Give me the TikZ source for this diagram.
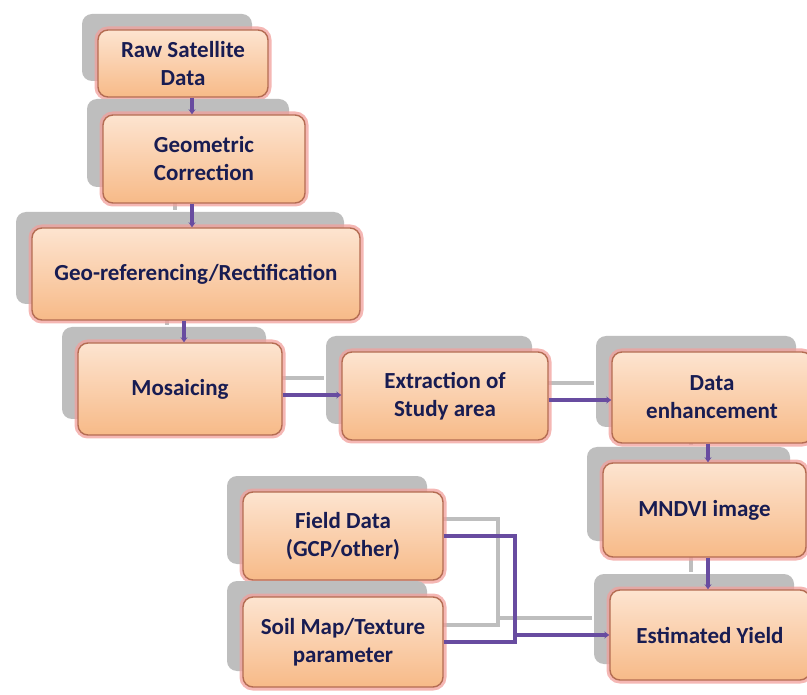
\documentclass[tikz,border=0pt]{standalone}
\usepackage{fontspec}
\setmainfont{Carlito}
\usetikzlibrary{shadows,arrows.meta,calc}
\definecolor{navy}{RGB}{24,28,82}
\definecolor{peachtop}{RGB}{253,228,208}
\definecolor{peachbot}{RGB}{247,186,136}
\definecolor{boxedge}{RGB}{180,108,82}
\definecolor{glow}{RGB}{242,160,156}
\definecolor{shadowgray}{RGB}{190,190,190}
\definecolor{linkpurple}{RGB}{104,76,160}
\pgfdeclarelayer{bg}
\pgfsetlayers{bg,main}
\newcommand\drawlinks[1]{%
  \draw[#1] (raw.south -| cA) -- (geo.north -| cA);
  \draw[#1] (geo.south -| cA) -- (georef.north -| cA);
  \draw[#1] (georef.south -| cB) -- (mosaic.north -| cB);
  \draw[#1] (mosaic.east |- cC) -- (extract.west |- cC);
  \draw[#1] (extract.east |- cD) -- (enh.west |- cD);
  \draw[#1] (enh.south -| cE) -- (mndvi.north -| cE);
  \draw[#1] (mndvi.south -| cE) -- (yield.north -| cE);
  \draw[#1,-] (field.east) -- (field.east -| cF) -- (soil.east -| cF) -- (soil.east);
  \draw[#1] (yield.west -| cF) -- (yield.west);
}
\begin{document}
\begin{tikzpicture}[x=1pt,y=-1pt,
  box/.style={rounded corners=10pt, draw=boxedge, line width=1.4pt,
    top color=peachtop, bottom color=peachbot, text=navy,
    font=\fontsize{23}{28}\selectfont\bfseries, align=center, inner sep=0pt,
    general shadow={fill=shadowgray, shadow xshift=-16pt, shadow yshift=16pt},
    preaction={draw=glow, line width=7pt, opacity=0.75}},
  link/.style={draw=linkpurple, line width=3.4pt, -{Stealth[length=5pt,width=7pt]}},
  linkshadow/.style={draw=shadowgray, line width=3.4pt, -,
    transform canvas={xshift=-17pt,yshift=17pt}},
]
\useasboundingbox (0,0) rectangle (807,695);
\coordinate (cA) at (192,0);
\coordinate (cB) at (184,0);
\coordinate (cC) at (0,395);
\coordinate (cD) at (0,400);
\coordinate (cE) at (708,0);
\coordinate (cF) at (515,0);

\node[box, minimum width=170, minimum height=67] (raw) at (183,63.5) {Raw Satellite\\Data};
\node[box, minimum width=202, minimum height=88] (geo) at (204,159) {Geometric\\Correction};
\node[box, minimum width=328, minimum height=92] (georef) at (196,274) {Geo-referencing/Rectification};
\node[box, minimum width=204, minimum height=92] (mosaic) at (180,389) {Mosaicing};
\node[box, minimum width=206, minimum height=88] (extract) at (445,396) {Extraction of\\Study area};
\node[box, minimum width=200, minimum height=91] (enh) at (712,397.5) {Data\\enhancement};
\node[box, minimum width=203, minimum height=94] (mndvi) at (704.5,510) {MNDVI image};
\node[box, minimum width=200, minimum height=90] (yield) at (710,635) {Estimated Yield};
\node[box, minimum width=200, minimum height=88] (field) at (343,536) {Field Data\\(GCP/other)};
\node[box, minimum width=200, minimum height=90] (soil) at (343,642) {Soil Map/Texture\\parameter};

\begin{pgfonlayer}{bg}
  \fill[white] (0,0) rectangle (807,695);
  \drawlinks{linkshadow}
\end{pgfonlayer}
\drawlinks{link}
\end{tikzpicture}
\end{document}
